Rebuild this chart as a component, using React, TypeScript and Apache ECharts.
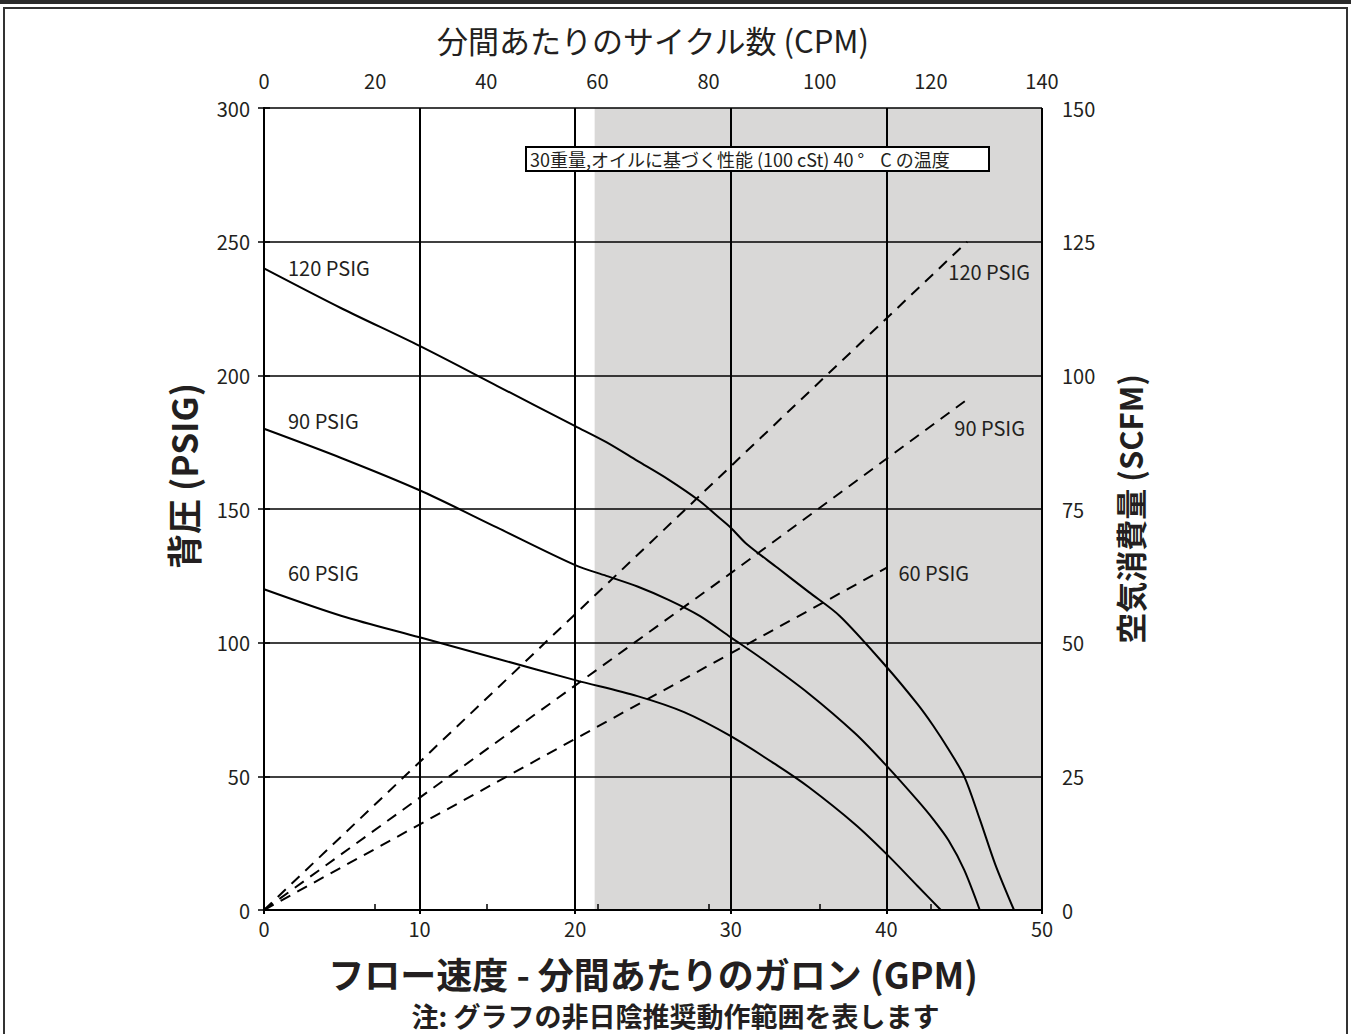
import React, { useEffect, useRef } from "react";
import * as echarts from "echarts";

// GPM values and back pressure (PSIG) for the three pump curves
const p120Flow = [0, 5, 10, 15, 20, 22, 24, 26, 28, 29, 30, 31, 33, 35, 37, 40, 42, 43, 44, 45, 46, 47, 48.2];
const p120Psig = [240, 225, 211, 196, 181, 175, 168, 161, 153, 148, 143, 137, 128, 119, 110, 91, 77, 69, 60, 50, 34, 17, 0];

const p90Flow = [0, 5, 10, 15, 20, 22, 24, 26, 28, 30, 32, 35, 38, 40, 42, 43, 44, 45, 46];
const p90Psig = [180, 169, 157, 143, 129, 125, 121, 116, 110, 102, 94, 81, 66, 54, 41, 34, 26, 15, 0];

const p60Flow = [0, 5, 10, 15, 20, 24, 27, 30, 33, 35, 38, 40, 42, 43.5];
const p60Psig = [120, 110, 102, 94, 86, 80, 74, 65, 54, 46, 32, 21, 9, 0];

// air consumption (SCFM) dashed lines
const a120Flow = [0, 30, 45.2];
const a120Scfm = [0, 83, 125];
const a90Flow = [0, 30, 45.2];
const a90Scfm = [0, 63, 95.5];
const a60Flow = [0, 20, 40];
const a60Scfm = [0, 32, 64];

const curveNames = ["120 PSIG", "90 PSIG", "60 PSIG"];

const shadeFrom = 21.25;
const shadeTo = 50;

const TXT = "#231f20";
const FONT = "'Noto Sans CJK JP', 'Noto Sans', sans-serif";

function pairs(xs: number[], ys: number[]) {
  return xs.map((x, i) => [x, ys[i]]);
}

export default function App() {
  const ref = useRef<HTMLDivElement>(null);
  useEffect(() => {
    document.body.style.margin = "0";
    const chart = echarts.init(ref.current!, undefined, { renderer: "svg" });
    const axisLabel = { color: TXT, fontSize: 20, fontFamily: FONT };
    const axisLine = { show: true, lineStyle: { color: "#000", width: 2 } };
    const solid = (data: any[]) => ({
      type: "line",
      xAxisIndex: 0,
      yAxisIndex: 0,
      data,
      smooth: 0.3,
      showSymbol: false,
      lineStyle: { color: "#000", width: 2 },
      itemStyle: { color: "#000" },
      z: 4,
    });
    const dashed = (data: any[]) => ({
      type: "line",
      xAxisIndex: 0,
      yAxisIndex: 1,
      data,
      smooth: false,
      showSymbol: false,
      lineStyle: { color: "#000", width: 2, type: [11, 8] },
      itemStyle: { color: "#000" },
      z: 4,
    });
    const frame: any[] = [
      { type: "rect", shape: { x: 0, y: 0, width: 1351, height: 4 }, style: { fill: "#2b2b2b" }, z: 20 },
      {
        type: "rect",
        shape: { x: 4, y: 8, width: 1343, height: 1040 },
        style: { fill: "none", stroke: "#333", lineWidth: 2 },
        z: 20,
      },
      {
        type: "text",
        left: "center",
        top: 1002,
        style: {
          text: "注: グラフの非日陰推奨動作範囲を表します",
          fill: TXT,
          fontSize: 27,
          lineHeight: 27,
          fontWeight: "bold",
          fontFamily: FONT,
        },
      },
    ];
    chart.setOption({
      animation: false,
      backgroundColor: "#fff",
      title: {
        text: "30重量,オイルに基づく性能 (100 cSt) 40 °    C の温度",
        left: 526,
        top: 147,
        padding: [2, 40, 2, 4],
        backgroundColor: "#fff",
        borderColor: "#000",
        borderWidth: 2,
        z: 10,
        textStyle: { color: TXT, fontSize: 18, fontWeight: "normal", fontFamily: FONT, lineHeight: 20 },
      },
      grid: { left: 264, right: 309, top: 108, bottom: 124, containLabel: false },
      xAxis: [
        {
          type: "value",
          position: "bottom",
          min: 0,
          max: 50,
          interval: 10,
          z: 3,
          axisLine,
          axisTick: { show: true, length: 4, lineStyle: { color: "#000", width: 2 } },
          axisLabel: { ...axisLabel, margin: 8 },
          splitLine: { show: true, lineStyle: { color: "#000", width: 2 } },
          name: "フロー速度 - 分間あたりのガロン (GPM)",
          nameLocation: "middle",
          nameGap: 45,
          nameTextStyle: { color: TXT, fontSize: 36, lineHeight: 36, fontWeight: "bold", fontFamily: FONT },
        },
        {
          type: "value",
          position: "top",
          min: 0,
          max: 140,
          interval: 20,
          z: 3,
          axisLine,
          axisTick: { show: true, length: 6, lineStyle: { color: "#000", width: 1.5 } },
          axisLabel: { ...axisLabel, margin: 18 },
          splitLine: { show: false },
          name: "分間あたりのサイクル数 (CPM)",
          nameLocation: "middle",
          nameGap: 53,
          nameTextStyle: { color: TXT, fontSize: 31, fontWeight: "normal", fontFamily: FONT },
        },
      ],
      yAxis: [
        {
          type: "value",
          position: "left",
          min: 0,
          max: 300,
          interval: 50,
          z: 3,
          axisLine,
          axisTick: { show: true, length: 6, lineStyle: { color: "#000", width: 1.5 } },
          axisLabel: { ...axisLabel, margin: 14 },
          splitLine: { show: true, lineStyle: { color: "#000", width: 1.5 } },
          name: "背圧 (PSIG)",
          nameLocation: "middle",
          nameGap: 64,
          nameRotate: 90,
          nameTextStyle: {
            color: TXT,
            fontSize: 35,
            fontWeight: "bold",
            fontFamily: FONT,
            padding: [0, 0, 0, 66],
          },
        },
        {
          type: "value",
          position: "right",
          min: 0,
          max: 150,
          interval: 25,
          z: 3,
          axisLine,
          axisTick: { show: true, length: 6, lineStyle: { color: "#000", width: 1.5 } },
          axisLabel: { ...axisLabel, margin: 20 },
          splitLine: { show: false },
          name: "空気消費量 (SCFM)",
          nameLocation: "middle",
          nameGap: 72,
          nameRotate: 90,
          nameTextStyle: { color: TXT, fontSize: 31, fontWeight: "bold", fontFamily: FONT },
        },
      ],
      graphic: frame,
      series: [
        {
          type: "line",
          xAxisIndex: 0,
          yAxisIndex: 0,
          data: [],
          z: 1,
          markArea: {
            silent: true,
            itemStyle: { color: "#d9d8d7" },
            data: [[{ xAxis: shadeFrom }, { xAxis: shadeTo }]],
          },
        },
        solid(pairs(p120Flow, p120Psig)),
        solid(pairs(p90Flow, p90Psig)),
        solid(pairs(p60Flow, p60Psig)),
        dashed(pairs(a120Flow, a120Scfm)),
        dashed(pairs(a90Flow, a90Scfm)),
        dashed(pairs(a60Flow, a60Scfm)),
      ],
    });

    // curve labels, anchored to the curves' end points through the chart's own scales
    const anchors = [
      { axis: 0, pt: [p120Flow[0], p120Psig[0]], d: [24, -1], t: curveNames[0] },
      { axis: 0, pt: [p90Flow[0], p90Psig[0]], d: [24, -8], t: curveNames[1] },
      { axis: 0, pt: [p60Flow[0], p60Psig[0]], d: [24, -17], t: curveNames[2] },
      { axis: 1, pt: [a120Flow[a120Flow.length - 1], a120Scfm[a120Scfm.length - 1]], d: [-19, 30], t: curveNames[0] },
      { axis: 1, pt: [a90Flow[a90Flow.length - 1], a90Scfm[a90Scfm.length - 1]], d: [-13, 28], t: curveNames[1] },
      { axis: 1, pt: [a60Flow[a60Flow.length - 1], a60Scfm[a60Scfm.length - 1]], d: [12, 5], t: curveNames[2] },
    ];
    const labels = anchors.map((a) => {
      const p = chart.convertToPixel({ xAxisIndex: 0, yAxisIndex: a.axis }, a.pt) as number[];
      return {
        type: "text",
        x: p[0] + a.d[0],
        y: p[1] + a.d[1],
        z: 30,
        style: {
          text: a.t,
          fill: TXT,
          fontSize: 20,
          fontFamily: FONT,
          align: "left",
          verticalAlign: "middle",
          textAlign: "left",
          textVerticalAlign: "middle",
        },
      };
    });
    chart.setOption({ graphic: [...frame, ...labels] });
    return () => chart.dispose();
  }, []);
  return (
    <div
      ref={ref}
      style={{ position: "fixed", left: 0, top: 0, width: 1351, height: 1034, background: "#fff" }}
    />
  );
}
